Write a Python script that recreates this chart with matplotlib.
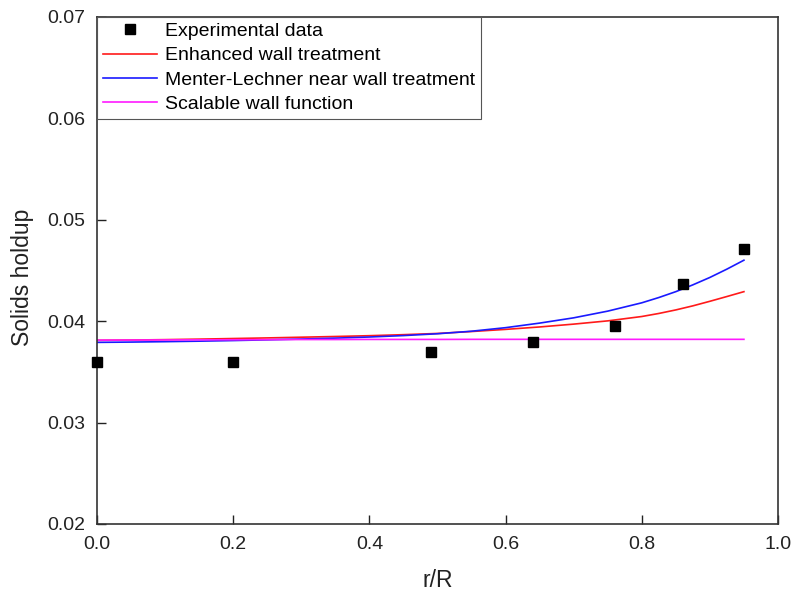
import matplotlib
matplotlib.use('Agg')
import matplotlib.pyplot as plt
import numpy as np

######## data ########

# measured points
r_exp = [0.0, 0.2, 0.49, 0.64, 0.76, 0.86, 0.95]
holdup_exp = [0.0360, 0.0360, 0.0370, 0.0379, 0.0395, 0.0437, 0.0471]

# simulated profiles
r_sim = [0.00, 0.05, 0.10, 0.15, 0.20, 0.25, 0.30, 0.35, 0.40, 0.45,
         0.50, 0.55, 0.60, 0.65, 0.70, 0.75, 0.80, 0.825, 0.85, 0.875, 0.90, 0.925, 0.95]
holdup_enhanced = [0.03810, 0.03813, 0.03817, 0.03822, 0.03828, 0.03834, 0.03841, 0.03848, 0.03856, 0.03866,
                   0.03878, 0.03897, 0.03918, 0.03942, 0.03970, 0.04002, 0.04045, 0.04075, 0.04110, 0.04150,
                   0.04195, 0.04242, 0.04290]
holdup_menter = [0.03790, 0.03793, 0.03797, 0.03802, 0.03808, 0.03815, 0.03823, 0.03832, 0.03843, 0.03857,
                 0.03875, 0.03900, 0.03935, 0.03980, 0.04032, 0.04098, 0.04180, 0.04232, 0.04290, 0.04357,
                 0.04430, 0.04512, 0.04600]
holdup_scalable = [0.03812, 0.03813, 0.03814, 0.03815, 0.03816, 0.03817, 0.03818, 0.03818, 0.03819, 0.03819,
                   0.03819, 0.03820, 0.03820, 0.03820, 0.03820, 0.03820, 0.03820, 0.03820, 0.03820, 0.03820,
                   0.03820, 0.03820, 0.03820]

######## plot settings ########

plt.rcParams['font.family'] = ['Liberation Sans', 'DejaVu Sans']
plt.rcParams['font.size'] = 14

fig = plt.figure(figsize=(7.94, 5.93), dpi=100)
ax = fig.add_axes([0.1222, 0.1164, 0.8576, 0.8554])

ax.plot(r_exp, holdup_exp, 's', color='black', markersize=7.5, label='Experimental data', clip_on=False, zorder=5)
ax.plot(r_sim, holdup_enhanced, color='#ff1a1a', lw=1.2, label='Enhanced wall treatment')
ax.plot(r_sim, holdup_menter, color='#1a1aff', lw=1.2, label='Menter-Lechner near wall treatment')
ax.plot(r_sim, holdup_scalable, color='#ff1aff', lw=1.2, label='Scalable wall function')

ax.set_xlim(0.0, 1.0)
ax.set_ylim(0.02, 0.07)
ax.set_xticks(np.arange(0.0, 1.01, 0.2))
ax.set_yticks(np.arange(0.02, 0.071, 0.01))
ax.xaxis.set_major_formatter(matplotlib.ticker.FormatStrFormatter('%.1f'))
ax.yaxis.set_major_formatter(matplotlib.ticker.FormatStrFormatter('%.2f'))
ax.tick_params(direction='in', length=6.5, width=1, colors='#222222', labelcolor='#222222', labelsize=14)
ax.tick_params(axis='x', pad=9)
ax.tick_params(axis='y', pad=8.5)

for s in ax.spines.values():
    s.set_linewidth(1.2)
    s.set_color('#333333')

ax.set_xlabel('r/R', fontsize=16.5, color='#222222', labelpad=11)
ax.set_ylabel('Solids holdup', fontsize=16.5, color='#222222')
ax.yaxis.set_label_coords(-0.092, 0.486)

leg = ax.legend(loc='upper left', bbox_to_anchor=(0, 1), borderaxespad=0, fancybox=False,
                edgecolor='#555555', framealpha=1, fontsize=14, labelspacing=0.34,
                handlelength=2.8, handletextpad=0.4, borderpad=0.3)
leg.get_frame().set_linewidth(0.8)

plt.savefig('out.png', dpi=100)
